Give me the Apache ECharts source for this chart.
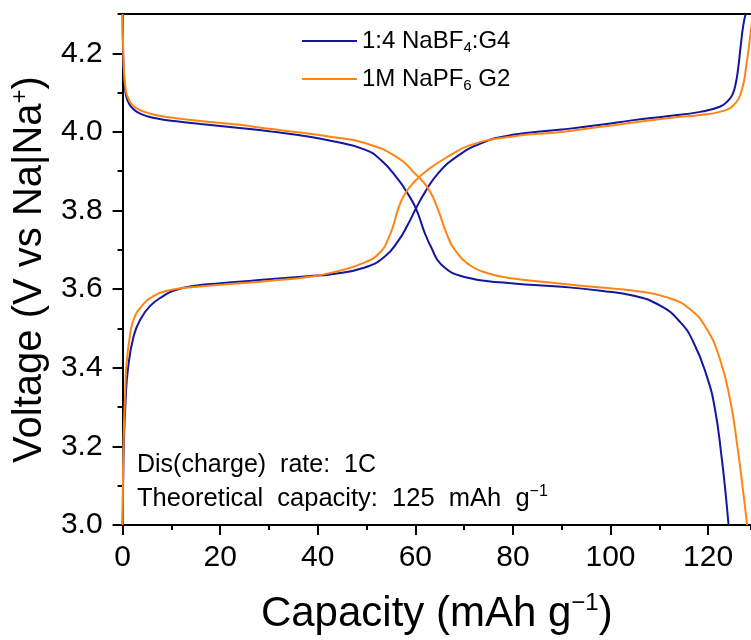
<!DOCTYPE html>
<html>
<head>
<meta charset="utf-8">
<script src="https://cdn.jsdelivr.net/npm/echarts@6/dist/echarts.min.js"></script>
<style>
html,body{margin:0;padding:0;background:#fff;}
#chart{width:751px;height:640px;}
</style>
</head>
<body>
<div id="chart"></div>
<script>
// ---- data (capacity in mAh g-1, voltage in V) ----
var blueDisCap = [0, 0.1, 0.3, 0.6, 1, 1.7, 2.5, 3.5, 5, 7.5, 11, 16, 24, 30, 36, 42.86, 49.66, 53.06, 56.46, 58.5, 60.2, 61.9, 63.27, 65.3, 70.07, 79.6, 90, 98, 104.8, 110.2, 114.3, 117, 119.7, 121.4, 122.8, 123.6, 124.2];
var blueDisV   = [4.3, 4.2, 4.14, 4.1, 4.08, 4.065, 4.055, 4.047, 4.04, 4.033, 4.027, 4.02, 4.01, 4.002, 3.992, 3.977, 3.955, 3.927, 3.879, 3.842, 3.803, 3.744, 3.706, 3.663, 3.631, 3.615, 3.606, 3.596, 3.583, 3.558, 3.516, 3.465, 3.38, 3.296, 3.17, 3.08, 3.0];
var blueChgCap = [0, 0.1, 0.27, 0.6, 1.1, 2.3, 3.7, 5.7, 8.4, 10.4, 14.5, 20, 30, 38, 42.86, 49.66, 53.74, 56.46, 58.5, 60.2, 61.9, 64.63, 68.7, 73.47, 79.6, 90, 98, 104.7, 111.6, 118.4, 122.4, 124, 125, 125.7, 126.2, 126.7, 127.2, 127.7];
var blueChgV   = [3.0, 3.1, 3.213, 3.314, 3.397, 3.482, 3.524, 3.558, 3.583, 3.596, 3.608, 3.615, 3.625, 3.633, 3.638, 3.655, 3.683, 3.722, 3.765, 3.807, 3.845, 3.894, 3.939, 3.971, 3.992, 4.006, 4.018, 4.03, 4.04, 4.051, 4.064, 4.078, 4.095, 4.125, 4.165, 4.22, 4.27, 4.3];
var orangeDisCap = [0, 0.12, 0.3, 0.6, 1, 1.7, 2.5, 3.5, 5, 7.5, 11, 16, 24, 30, 36, 42.86, 49.66, 56.46, 59.86, 62.6, 64.63, 66.33, 68.03, 71.43, 75, 79.6, 90, 98, 104.8, 111.6, 116.3, 119.7, 122.4, 124.5, 125.9, 127.2, 128.0];
var orangeDisV   = [4.3, 4.21, 4.15, 4.11, 4.09, 4.073, 4.063, 4.056, 4.049, 4.041, 4.035, 4.028, 4.018, 4.008, 3.999, 3.987, 3.972, 3.934, 3.895, 3.857, 3.803, 3.744, 3.701, 3.659, 3.64, 3.628, 3.614, 3.604, 3.596, 3.579, 3.549, 3.499, 3.423, 3.32, 3.21, 3.085, 3.0];
var orangeChgCap = [0, 0.1, 0.3, 0.5, 0.75, 1.5, 2.3, 4.0, 6.4, 9.1, 14, 20, 30, 38, 42.86, 49.66, 53.06, 54.4, 55.44, 56.46, 57.8, 59.86, 62.6, 66.67, 71.4, 79.6, 90, 98, 111.6, 118.4, 122.4, 125.2, 126.9, 127.9, 128.6, 129.2];
var orangeChgV   = [3.0, 3.15, 3.26, 3.33, 3.40, 3.482, 3.524, 3.558, 3.583, 3.596, 3.605, 3.611, 3.621, 3.631, 3.642, 3.668, 3.697, 3.727, 3.76, 3.803, 3.841, 3.874, 3.904, 3.937, 3.967, 3.988, 4.0, 4.013, 4.035, 4.043, 4.051, 4.068, 4.106, 4.175, 4.24, 4.3];

var seriesNames = ['NaBF4', 'NaPF6'];
var xTickLabels = ['0', '20', '40', '60', '80', '100', '120'];
var yTickLabels = ['3.0', '3.2', '3.4', '3.6', '3.8', '4.0', '4.2'];

function pairs(xs, ys) { return xs.map(function (x, i) { return [x, ys[i]]; }); }

var FONT = '"Liberation Sans", Arial, Helvetica, sans-serif';
var BLUE = '#15159e';
var ORANGE = '#ff8512';

var chart = echarts.init(document.getElementById('chart'), null, { renderer: 'canvas' });

function lineSeries(name, color, data) {
  return {
    name: name, type: 'line', data: data, showSymbol: false, symbol: 'none',
    smooth: 0.5, clip: true,
    lineStyle: { color: color, width: 2 }, itemStyle: { color: color },
    xAxisIndex: 0, yAxisIndex: 0, z: 3
  };
}

var option = {
  backgroundColor: '#ffffff',
  animation: false,
  grid: { left: 120, right: 0, top: 14, bottom: 113, containLabel: false },
  legend: {
    data: seriesNames,
    orient: 'vertical',
    left: 297, top: 22,
    icon: 'rect', itemWidth: 55, itemHeight: 2, itemGap: 10, itemStyle: { borderWidth: 0 },
    formatter: function (name) {
      return name === 'NaBF4' ? '{t|1:4 NaBF}{s|4}{t|:G4}' : '{t|1M NaPF}{s|6}{t| G2}';
    },
    textStyle: {
      fontFamily: FONT, fontSize: 24, color: '#000', lineHeight: 28,
      rich: {
        t: { fontFamily: FONT, fontSize: 24, color: '#000', lineHeight: 28 },
        s: { fontFamily: FONT, fontSize: 15, color: '#000', lineHeight: 6, verticalAlign: 'bottom' }
      }
    }
  },
  xAxis: [
    {
      type: 'value', min: 0, max: 128.8, interval: 20, position: 'bottom',
      name: '{a|Capacity (mAh g}{b|\u22121}{a|)}', nameLocation: 'middle', nameGap: 66,
      nameTextStyle: {
        rich: {
          a: { fontFamily: FONT, fontSize: 42, color: '#000', lineHeight: 46 },
          b: { fontFamily: FONT, fontSize: 24, color: '#000', lineHeight: 20, verticalAlign: 'top' }
        }
      },
      axisLine: { show: true, onZero: false, lineStyle: { color: '#000', width: 2 } },
      axisTick: { show: true, inside: false, length: 10, lineStyle: { color: '#000', width: 2 } },
      axisLabel: {
        fontFamily: FONT, fontSize: 30, color: '#000', margin: 18, showMaxLabel: false,
        formatter: function (v) { var i = Math.round(v / 20); return (Math.abs(v - i * 20) < 1e-6 && xTickLabels[i] !== undefined) ? xTickLabels[i] : ''; }
      },
      splitLine: { show: false }
    },
    {
      type: 'value', min: 0, max: 128.8, interval: 10, position: 'bottom',
      axisLine: { show: false }, axisLabel: { show: false }, splitLine: { show: false },
      axisTick: { show: true, inside: false, length: 5, lineStyle: { color: '#000', width: 2 } }
    },
    {
      type: 'value', min: 0, max: 128.8, position: 'top',
      axisLine: { show: true, onZero: false, lineStyle: { color: '#000', width: 2 } },
      axisTick: { show: false }, axisLabel: { show: false }, splitLine: { show: false }
    }
  ],
  yAxis: [
    {
      type: 'value', min: 3.0, max: 4.3, interval: 0.2, position: 'left',
      name: '{a|Voltage (V vs Na|Na}{b|+}{a|)}', nameLocation: 'middle', nameGap: 70, nameRotate: 90,
      nameTextStyle: {
        rich: {
          a: { fontFamily: FONT, fontSize: 40, color: '#000', lineHeight: 44 },
          b: { fontFamily: FONT, fontSize: 24, color: '#000', lineHeight: 14, verticalAlign: 'top' }
        }
      },
      axisLine: { show: true, onZero: false, lineStyle: { color: '#000', width: 2 } },
      axisTick: { show: true, inside: false, length: 10, lineStyle: { color: '#000', width: 2 } },
      axisLabel: {
        fontFamily: FONT, fontSize: 30, color: '#000', margin: 20, showMaxLabel: false,
        formatter: function (v) { var i = Math.round((v - 3.0) / 0.2); return (Math.abs(v - 3.0 - i * 0.2) < 1e-6 && yTickLabels[i] !== undefined) ? yTickLabels[i] : ''; }
      },
      splitLine: { show: false }
    },
    {
      type: 'value', min: 3.0, max: 4.3, interval: 0.1, position: 'left',
      axisLine: { show: false }, axisLabel: { show: false }, splitLine: { show: false },
      axisTick: { show: true, inside: false, length: 5, lineStyle: { color: '#000', width: 2 } }
    }
  ],
  graphic: [
    {
      type: 'text', left: 137, top: 453, z: 10,
      style: { text: 'Dis(charge)  rate:  1C', fontFamily: FONT, fontSize: 25, fill: '#000' }
    },
    {
      type: 'text', left: 137, top: 484, z: 10,
      style: {
        text: '{a|Theoretical  capacity:  125  mAh  g}{b|\u22121}',
        fontFamily: FONT, fontSize: 25, fill: '#000',
        rich: {
          a: { fontFamily: FONT, fontSize: 25.5, fill: '#000', lineHeight: 29 },
          b: { fontFamily: FONT, fontSize: 16, fill: '#000', lineHeight: 12, verticalAlign: 'top' }
        }
      }
    }
  ],
  series: [
    lineSeries('NaBF4', BLUE, pairs(blueDisCap, blueDisV)),
    lineSeries('NaBF4', BLUE, pairs(blueChgCap, blueChgV)),
    lineSeries('NaPF6', ORANGE, pairs(orangeDisCap, orangeDisV)),
    lineSeries('NaPF6', ORANGE, pairs(orangeChgCap, orangeChgV))
  ]
};
chart.setOption(option);
</script>
</body>
</html>
